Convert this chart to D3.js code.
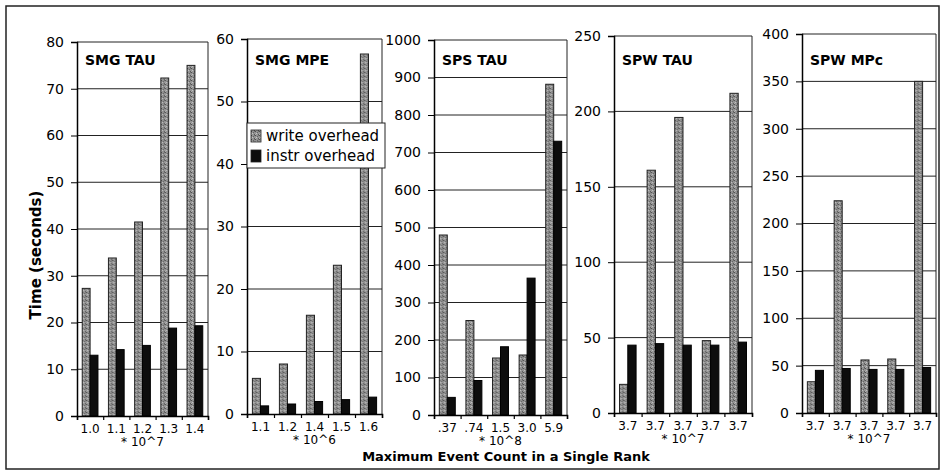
<!DOCTYPE html>
<html>
<head>
<meta charset="utf-8">
<script src="https://cdn.jsdelivr.net/npm/d3@7"></script>
<style>
  body { margin: 0; background: #fff; }
  svg { display: block; font-family: "DejaVu Sans", Verdana, sans-serif; }
</style>
</head>
<body>
<svg id="chart" width="945" height="474"></svg>
<script>
// ---- data ----
const panelTitles = ["SMG TAU", "SMG MPE", "SPS TAU", "SPW TAU", "SPW MPc"];
const xLabels = [
  ["1.0", "1.1", "1.2", "1.3", "1.4"],
  ["1.1", "1.2", "1.4", "1.5", "1.6"],
  [".37", ".74", "1.5", "3.0", "5.9"],
  ["3.7", "3.7", "3.7", "3.7", "3.7"],
  ["3.7", "3.7", "3.7", "3.7", "3.7"]
];
const multipliers = ["* 10^7", "* 10^6", "* 10^8", "* 10^7", "* 10^7"];
const yMax = [80, 60, 1000, 250, 400];
const yStep = [10, 10, 100, 50, 50];
const writeOverhead = [
  [27.3, 33.8, 41.5, 72.3, 75.0],
  [5.7, 8.0, 15.8, 23.8, 57.6],
  [480, 252, 152, 160, 882],
  [19, 161, 196, 48, 212],
  [33, 224, 56, 57, 350]
];
const instrOverhead = [
  [13.0, 14.2, 15.1, 18.8, 19.3],
  [1.3, 1.6, 2.0, 2.3, 2.7],
  [47, 92, 182, 365, 730],
  [45, 46, 45, 45, 47],
  [45, 47, 46, 46, 48]
];
const seriesNames = ["write overhead", "instr overhead"];
const xTitle = "Maximum Event Count in a Single Rank";
const yTitle = "Time (seconds)";

// ---- layout ----
const lefts = [77, 247, 434, 614, 802];
const rights = [208, 382, 567, 752, 936];
const tops = [42, 39, 40, 36, 34];
const bottoms = [416, 414, 415, 413, 413];

const svg = d3.select("#chart");
const defs = svg.append("defs");
const pat = defs.append("pattern").attr("id", "stipple")
  .attr("width", 4).attr("height", 4).attr("patternUnits", "userSpaceOnUse");
pat.append("rect").attr("width", 4).attr("height", 4).attr("fill", "#939393");
[[0,0,"#4e4e4e"],[2,1,"#626262"],[1,2,"#c4c4c4"],[3,3,"#575757"],[0,3,"#b0b0b0"],[3,0,"#747474"]]
  .forEach(([px, py, c]) => pat.append("rect").attr("x", px).attr("y", py)
    .attr("width", 1).attr("height", 1).attr("fill", c));

const colors = ["url(#stipple)", "#0d0d0d"];

// outer frame
svg.append("rect").attr("x", 6).attr("y", 6).attr("width", 933).attr("height", 463)
  .attr("fill", "none").attr("stroke", "#222").attr("stroke-width", 1.5);

panelTitles.forEach((title, i) => {
  const g = svg.append("g");
  const x = d3.scaleBand().domain(d3.range(5)).range([lefts[i], rights[i]])
    .paddingInner(0.4).paddingOuter(0.2);
  const xs = d3.scaleBand().domain([0, 1]).range([0, x.bandwidth()]);
  const xb = d3.scaleLinear().domain([0, 5]).range([lefts[i], rights[i]]);
  const y = d3.scaleLinear().domain([0, yMax[i]]).range([bottoms[i], tops[i]]);
  const ticks = d3.range(0, yMax[i] + yStep[i] / 2, yStep[i]);

  // gridlines
  g.selectAll("line.grid").data(ticks.slice(1, -1)).join("line")
    .attr("x1", lefts[i]).attr("x2", rights[i])
    .attr("y1", d => y(d)).attr("y2", d => y(d))
    .attr("stroke", "#222").attr("stroke-width", 1);

  // frame (top, right)
  g.append("path")
    .attr("d", `M${lefts[i]},${tops[i]}H${rights[i]}V${bottoms[i]}`)
    .attr("fill", "none").attr("stroke", "#222").attr("stroke-width", 1);

  // bars
  const rows = d3.range(5).map(k => [writeOverhead[i][k], instrOverhead[i][k]]);
  const grp = g.selectAll("g.cat").data(rows).join("g")
    .attr("transform", (d, k) => `translate(${x(k)},0)`);
  grp.selectAll("rect").data(d => d).join("rect")
    .attr("x", (d, s) => xs(s))
    .attr("width", xs.bandwidth())
    .attr("y", d => y(d))
    .attr("height", d => y(0) - y(d))
    .attr("fill", (d, s) => colors[s])
    .attr("stroke", (d, s) => s === 0 ? "#222" : "#000")
    .attr("stroke-width", 1);

  // y axis
  const ya = g.append("g").attr("transform", `translate(${lefts[i]},0)`)
    .call(d3.axisLeft(y).tickValues(ticks).tickSize(6).tickPadding(7).tickFormat(d3.format("d")));
  ya.select(".domain").attr("stroke", "#000").attr("stroke-width", 1.5);
  ya.selectAll(".tick line").attr("stroke", "#000");
  ya.selectAll("text").attr("font-size", 14).attr("fill", "#000")
    .attr("font-family", "DejaVu Sans, Verdana, sans-serif");

  // x axis: boundary ticks
  const xa = g.append("g").attr("transform", `translate(0,${bottoms[i]})`)
    .call(d3.axisBottom(xb).tickValues(d3.range(6)).tickSize(4).tickFormat(""));
  xa.select(".domain").attr("stroke", "#000").attr("stroke-width", 1.5);
  xa.selectAll(".tick line").attr("stroke", "#000").attr("stroke-width", 1.2);

  // x labels
  const xl = g.append("g").attr("transform", `translate(0,${bottoms[i]})`)
    .call(d3.axisBottom(x).tickSize(0).tickPadding(8).tickFormat(k => xLabels[i][k]));
  xl.select(".domain").remove();
  xl.selectAll("text").attr("font-size", 12).attr("fill", "#000")
    .attr("font-family", "DejaVu Sans, Verdana, sans-serif");

  g.append("text")
    .attr("x", (lefts[i] + rights[i]) / 2).attr("y", bottoms[i] + 30)
    .attr("text-anchor", "middle").attr("font-size", 12).text(multipliers[i]);

  // title
  g.append("text").attr("x", lefts[i] + 8).attr("y", 65)
    .attr("font-size", 14).attr("font-weight", "bold").text(title);
});

// axis titles
svg.append("text").attr("x", 506).attr("y", 461)
  .attr("text-anchor", "middle").attr("font-size", 13).attr("font-weight", "bold")
  .text(xTitle);
svg.append("text").attr("transform", "translate(41,255) rotate(-90)")
  .attr("text-anchor", "middle").attr("font-size", 15).attr("font-weight", "bold")
  .text(yTitle);

// legend
const lg = svg.append("g").attr("transform", "translate(247,123)");
lg.append("rect").attr("width", 138).attr("height", 45)
  .attr("fill", "#fff").attr("stroke", "#222").attr("stroke-width", 1);
seriesNames.forEach((name, s) => {
  lg.append("rect").attr("x", 4).attr("y", 7 + s * 20).attr("width", 10).attr("height", 12)
    .attr("fill", colors[s]).attr("stroke", "#222").attr("stroke-width", 0.8);
  lg.append("text").attr("x", 19).attr("y", 18 + s * 20)
    .attr("font-size", 15).text(name);
});
</script>
</body>
</html>
